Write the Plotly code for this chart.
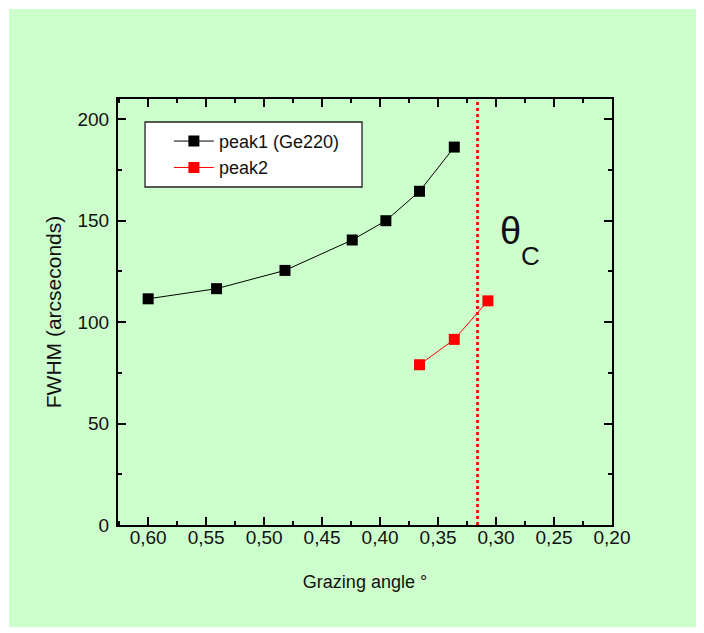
import plotly.graph_objects as go

# ---- data ----
peak1_angle = [0.600, 0.541, 0.482, 0.424, 0.395, 0.366, 0.336]
peak1_fwhm = [111.5, 116.5, 125.5, 140.5, 150.0, 164.5, 186.3]
peak2_angle = [0.366, 0.336, 0.307]
peak2_fwhm = [79.0, 91.5, 110.5]
theta_c = 0.316
x_range = [0.626, 0.20]
y_range = [0, 210]

FONT = "Liberation Sans, Arial, sans-serif"
GREEN = "#ccffcc"
TXT = "#111111"

fig = go.Figure()
fig.add_trace(go.Scatter(
    x=peak1_angle, y=peak1_fwhm, mode="lines+markers", name="peak1 (Ge220)",
    line=dict(color="black", width=1),
    marker=dict(symbol="square", size=11, color="black", line=dict(width=0)),
))
fig.add_trace(go.Scatter(
    x=peak2_angle, y=peak2_fwhm, mode="lines+markers", name="peak2",
    line=dict(color="red", width=1),
    marker=dict(symbol="square", size=11, color="red", line=dict(width=0)),
))
fig.add_trace(go.Scatter(
    x=[theta_c, theta_c], y=y_range, mode="lines", showlegend=False,
    line=dict(color="red", width=2.7, dash="3px,3px"), hoverinfo="skip",
))

axis_common = dict(
    showgrid=False, zeroline=False, showline=True, linecolor="black", linewidth=2,
    mirror="allticks", ticks="inside", ticklen=8, tickwidth=2, tickcolor="black",
    tickfont=dict(family=FONT, size=19, color=TXT),
)

fig.update_xaxes(
    range=x_range, tick0=0.2, dtick=0.05, tickformat=".2f", ticklabelstandoff=-6,
    minor=dict(dtick=0.025, ticks="inside", ticklen=4, tickwidth=1.5, tickcolor="black"),
    title=dict(text="Grazing angle °", font=dict(family=FONT, size=18, color=TXT), standoff=29),
    **axis_common,
)
fig.update_yaxes(
    range=y_range, tick0=0, dtick=50, ticklabelstandoff=3,
    minor=dict(dtick=25, ticks="inside", ticklen=4, tickwidth=1.5, tickcolor="black"),
    title=dict(text="FWHM (arcseconds)", font=dict(family=FONT, size=21, color=TXT), standoff=10),
    **axis_common,
)

fig.add_annotation(x=0.2876, y=144.8, xref="x", yref="y", text="θ", showarrow=False,
                   font=dict(family=FONT, size=38, color=TXT), xanchor="center", yanchor="middle")
fig.add_annotation(x=0.270, y=132.7, xref="x", yref="y", text="C", showarrow=False,
                   font=dict(family=FONT, size=26, color=TXT), xanchor="center", yanchor="middle")

# background green panel with white surround, and legend box
fig.add_shape(type="rect", xref="paper", yref="paper", x0=-0.2206, x1=1.178, y0=-0.2394, y1=1.2113,
              fillcolor=GREEN, line=dict(width=0), layer="below")
fig.add_shape(type="rect", xref="paper", yref="paper", x0=0.0547, x1=0.494, y0=0.7934, y1=0.946,
              fillcolor="white", line=dict(color="#222222", width=1.3), layer="below")

# page body has an 8px margin: figure is placed at (8,8)
fig.update_layout(
    width=692, height=619,
    margin=dict(l=110, r=88, t=91, b=102),
    paper_bgcolor="white", plot_bgcolor=GREEN,
    separators=", ",
    font=dict(family=FONT, color=TXT),
    showlegend=True,
    legend=dict(x=0.103, y=0.944, xanchor="left", yanchor="top",
                bgcolor="rgba(0,0,0,0)", borderwidth=0,
                font=dict(family=FONT, size=18, color=TXT), itemwidth=40, tracegroupgap=0),
)

fig.write_html("out.html")
